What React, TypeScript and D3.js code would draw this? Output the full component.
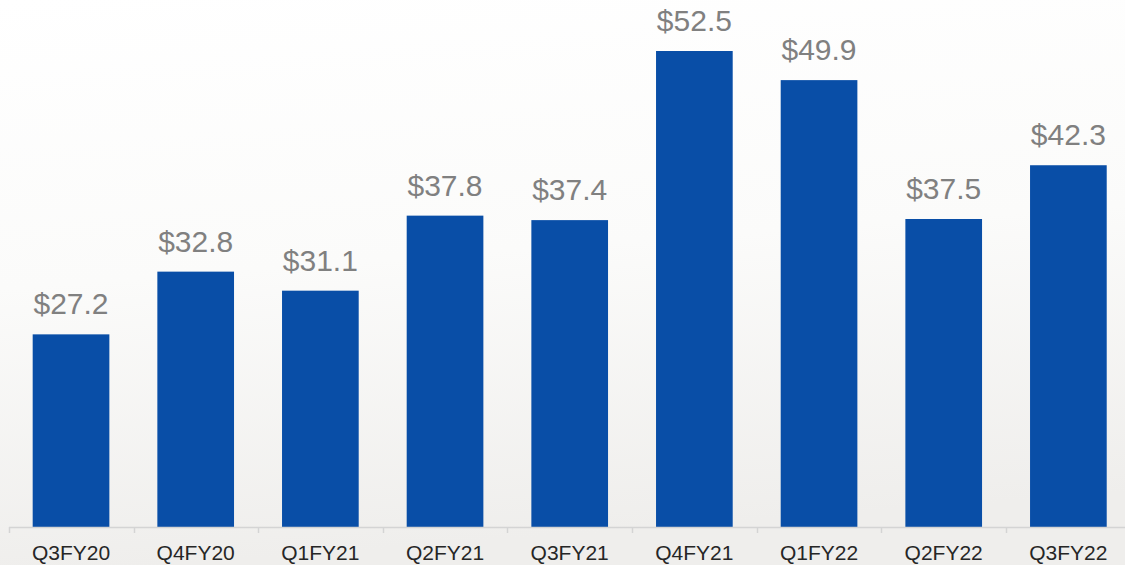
import * as d3 from "d3";
import { useEffect, useRef } from "react";

const categories = ["Q3FY20", "Q4FY20", "Q1FY21", "Q2FY21", "Q3FY21", "Q4FY21", "Q1FY22", "Q2FY22", "Q3FY22"];
const values = [27.2, 32.8, 31.1, 37.8, 37.4, 52.5, 49.9, 37.5, 42.3];

export default function App() {
    const ref = useRef<SVGSVGElement | null>(null);
    const width = 1125;
    const height = 565;

    useEffect(() => {
        if (!ref.current) return;
        const svg = d3.select(ref.current);
        svg.selectAll("*").remove();

        // background gradient
        const defs = svg.append("defs");
        const grad = defs.append("linearGradient")
            .attr("id", "bg")
            .attr("x1", 0).attr("y1", 0).attr("x2", 0.15).attr("y2", 1);
        grad.append("stop").attr("offset", "0%").attr("stop-color", "#ffffff");
        grad.append("stop").attr("offset", "50%").attr("stop-color", "#fbfbfa");
        grad.append("stop").attr("offset", "100%").attr("stop-color", "#efeeec");
        svg.append("rect").attr("width", width).attr("height", height).attr("fill", "url(#bg)");

        const left = 9;
        const bandW = 124.6;
        const baseY = 527;

        const x = d3.scaleBand<string>()
            .domain(categories)
            .range([left, left + bandW * categories.length])
            .paddingInner(0.385)
            .paddingOuter(0.19);

        const y = d3.scaleLinear()
            .domain([10, 52.5])
            .range([baseY, 51]);

        // bars
        svg.append("g")
            .selectAll("rect")
            .data(values)
            .join("rect")
            .attr("x", (_, i) => x(categories[i])!)
            .attr("y", d => y(d))
            .attr("width", x.bandwidth())
            .attr("height", d => baseY - y(d))
            .attr("fill", "#094ea7");

        // value labels
        svg.append("g")
            .selectAll("text")
            .data(values)
            .join("text")
            .attr("x", (_, i) => x(categories[i])! + x.bandwidth() / 2)
            .attr("y", d => y(d) - 20)
            .attr("text-anchor", "middle")
            .attr("font-family", "Liberation Sans, Arial, sans-serif")
            .attr("font-size", "30px")
            .attr("fill", "#808080")
            .text(d => `$${d.toFixed(1)}`);

        // axis
        const axis = svg.append("g");
        axis.append("line")
            .attr("x1", left)
            .attr("x2", width)
            .attr("y1", baseY + 0.5)
            .attr("y2", baseY + 0.5)
            .attr("stroke", "#d4d4d4")
            .attr("stroke-width", 1.5);

        categories.forEach((c, i) => {
            const tx = Math.round(left + bandW * i) + 0.5;
            axis.append("line")
                .attr("x1", tx).attr("x2", tx)
                .attr("y1", baseY).attr("y2", baseY + 6)
                .attr("stroke", "#d4d4d4")
                .attr("stroke-width", 1.5);

            axis.append("text")
                .attr("x", x(c)! + x.bandwidth() / 2)
                .attr("y", 560)
                .attr("text-anchor", "middle")
                .attr("font-family", "Liberation Sans, Arial, sans-serif")
                .attr("font-size", "21px")
                .attr("fill", "#262626")
                .text(c);
        });
    }, []);

    return (
        <svg
            ref={ref}
            width={width}
            height={height}
            style={{ position: "absolute", left: 0, top: 0, display: "block" }}
        />
    );
}
